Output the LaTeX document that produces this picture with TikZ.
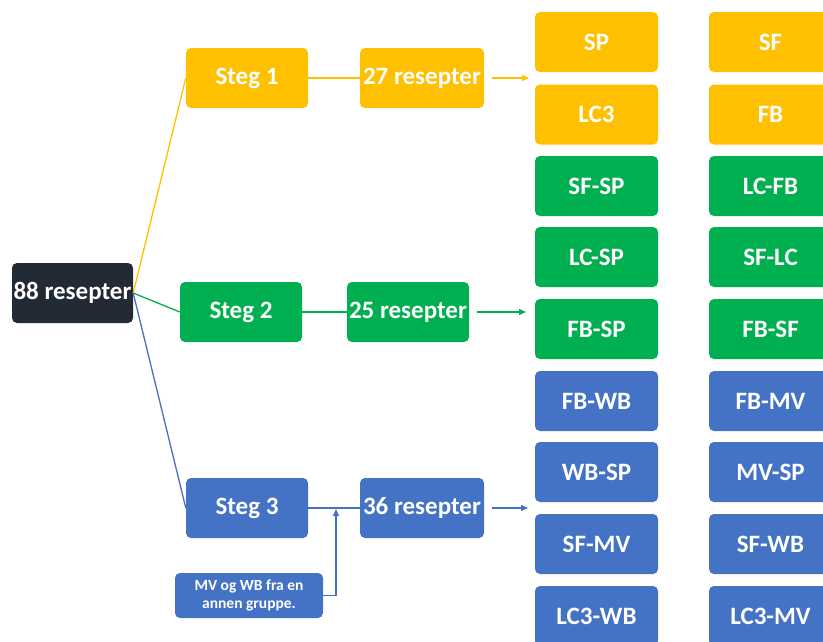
\documentclass[tikz,border=0pt]{standalone}
\usepackage{fontspec}
\setmainfont{Carlito}
\usetikzlibrary{arrows.meta,calc}
\definecolor{cyel}{HTML}{FFC000}
\definecolor{cgrn}{HTML}{00B050}
\definecolor{cblu}{HTML}{4472C4}
\definecolor{cdrk}{HTML}{222A35}
\tikzset{
  box/.style={rounded corners=5pt, minimum width=122pt, minimum height=60pt, inner sep=0pt,
    text=white, font=\fontsize{25}{27}\selectfont\bfseries},
  yb/.style={box, fill=cyel},
  gb/.style={box, fill=cgrn},
  bb/.style={box, fill=cblu},
  conn/.style={line width=1.3pt},
  arr/.style={conn, -{Triangle[length=7pt,width=6pt]}},
}
\begin{document}
\begin{tikzpicture}[x=1pt,y=-1pt]
\useasboundingbox (0,0) rectangle (823,641);
\clip (0,0) rectangle (823,641);
% root
\node[box, fill=cdrk, minimum width=121pt] (root) at (72.5,293) {88 resepter};
% steps
\node[yb] (s1) at (247,78) {Steg 1};
\node[gb] (s2) at (241,312) {Steg 2};
\node[bb] (s3) at (247,508) {Steg 3};
\node[yb, minimum width=124pt] (r1) at (422,78) {27 resepter};
\node[gb] (r2) at (408,312) {25 resepter};
\node[bb, minimum width=124pt] (r3) at (422,508) {36 resepter};
\node[bb, minimum width=148pt, minimum height=45pt, align=center,
  font=\fontsize{15.5}{18}\selectfont\bfseries] (note) at (249,595.5) {MV og WB fra en\\annen gruppe.};
% column 1
\node[yb, minimum width=123pt] (c1a) at (596.5,42) {SP};
\node[yb, minimum width=123pt] (c1b) at (596.5,114.5) {LC3};
\node[gb, minimum width=123pt] (c1c) at (596.5,186) {SF-SP};
\node[gb, minimum width=123pt] (c1d) at (596.5,257) {LC-SP};
\node[gb, minimum width=123pt] (c1e) at (596.5,329) {FB-SP};
\node[bb, minimum width=123pt] (c1f) at (596.5,401) {FB-WB};
\node[bb, minimum width=123pt] (c1g) at (596.5,472) {WB-SP};
\node[bb, minimum width=123pt] (c1h) at (596.5,544) {SF-MV};
\node[bb, minimum width=123pt] (c1i) at (596.5,616) {LC3-WB};
% column 2
\node[yb, minimum width=123pt] (c2a) at (770.5,42) {SF};
\node[yb, minimum width=123pt] (c2b) at (770.5,114.5) {FB};
\node[gb, minimum width=123pt] (c2c) at (770.5,186) {LC-FB};
\node[gb, minimum width=123pt] (c2d) at (770.5,257) {SF-LC};
\node[gb, minimum width=123pt] (c2e) at (770.5,329) {FB-SF};
\node[bb, minimum width=123pt] (c2f) at (770.5,401) {FB-MV};
\node[bb, minimum width=123pt] (c2g) at (770.5,472) {MV-SP};
\node[bb, minimum width=123pt] (c2h) at (770.5,544) {SF-WB};
\node[bb, minimum width=123pt] (c2i) at (770.5,616) {LC3-MV};
% coordinates
\coordinate (a1s) at (492,78);
\coordinate (a1e) at (529,78);
\coordinate (a2s) at (477,312);
\coordinate (a2e) at (526,312);
\coordinate (a3s) at (492,508);
\coordinate (a3e) at (528,508);
\coordinate (j) at (336,509);
% connectors
\draw[conn, cyel] (root.east) -- (s1.west);
\draw[conn, cgrn] (root.east) -- (s2.west);
\draw[conn, cblu] (root.east) -- (s3.west);
\draw[conn, cyel] (s1.east) -- (r1.west);
\draw[conn, cgrn] (s2.east) -- (r2.west);
\draw[conn, cblu] (s3.east) -- (r3.west);
\draw[arr, cyel] (a1s) -- (a1e);
\draw[arr, cgrn] (a2s) -- (a2e);
\draw[arr, cblu] (a3s) -- (a3e);
\draw[arr, cblu] (note.east) -| (j);
\end{tikzpicture}
\end{document}
